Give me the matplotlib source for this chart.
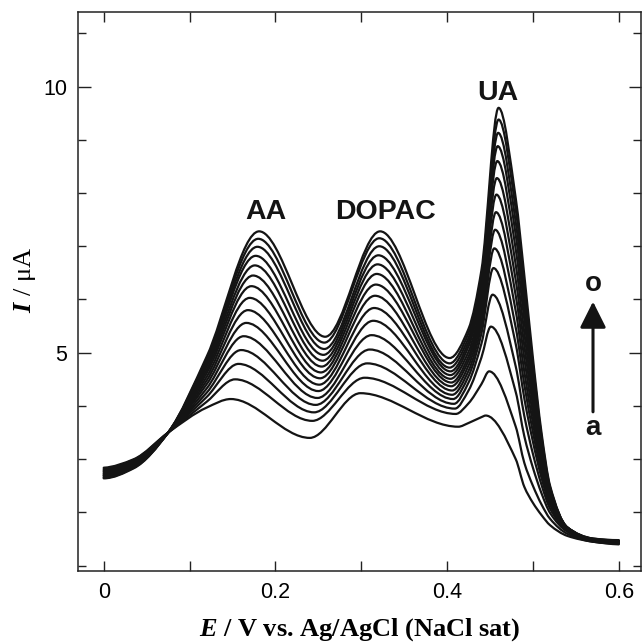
import matplotlib
matplotlib.use("Agg")
import matplotlib.pyplot as plt
from matplotlib.path import Path
from matplotlib.patches import PathPatch
from matplotlib.ticker import MultipleLocator
import numpy as np

# DPV curves a..o: current (uA) at characteristic potentials (V)
curve_names = list("abcdefghijklmno")

start_i = [2.84, 2.82, 2.80, 2.79, 2.77, 2.76, 2.74, 2.73, 2.71, 2.70, 2.69, 2.68, 2.66, 2.65, 2.64]
i_035 = [3.00, 2.99, 2.97, 2.96, 2.95, 2.93, 2.92, 2.91, 2.90, 2.89, 2.88, 2.86, 2.85, 2.84, 2.83]
cross_e, cross_i = 0.075, 3.50
i_120 = [3.97, 4.08, 4.17, 4.25, 4.33, 4.41, 4.48, 4.55, 4.62, 4.68, 4.74, 4.79, 4.84, 4.89, 4.93]

aa_e = [0.148, 0.153, 0.157, 0.160, 0.163, 0.166, 0.168, 0.170, 0.172, 0.174, 0.176, 0.177, 0.179, 0.180, 0.181]
aa_i = [4.13, 4.50, 4.79, 5.05, 5.31, 5.56, 5.80, 6.03, 6.25, 6.45, 6.64, 6.82, 6.99, 7.14, 7.28]

v1_e = [0.240, 0.243, 0.245, 0.247, 0.249, 0.250, 0.251, 0.252, 0.253, 0.254, 0.255, 0.256, 0.257, 0.257, 0.258]
v1_i = [3.40, 3.72, 3.88, 4.02, 4.15, 4.28, 4.40, 4.52, 4.63, 4.74, 4.85, 4.96, 5.07, 5.19, 5.30]

dopac_e = [0.299, 0.304, 0.307, 0.310, 0.312, 0.314, 0.315, 0.316, 0.317, 0.318, 0.319, 0.320, 0.321, 0.321, 0.322]
dopac_i = [4.24, 4.53, 4.80, 5.06, 5.33, 5.60, 5.84, 6.07, 6.28, 6.48, 6.66, 6.83, 7.00, 7.15, 7.28]

v2_e = [0.413, 0.410, 0.409, 0.408, 0.407, 0.406, 0.406, 0.405, 0.405, 0.404, 0.404, 0.404, 0.403, 0.403, 0.403]
v2_i = [3.61, 3.85, 3.95, 4.04, 4.13, 4.21, 4.29, 4.37, 4.44, 4.51, 4.58, 4.65, 4.72, 4.80, 4.90]

i_425 = [3.68, 4.05, 4.29, 4.44, 4.56, 4.66, 4.76, 4.85, 4.93, 5.02, 5.12, 5.20, 5.28, 5.37, 5.45]
i_440 = [3.79, 4.41, 4.91, 5.17, 5.36, 5.50, 5.62, 5.74, 5.85, 5.98, 6.11, 6.22, 6.31, 6.43, 6.55]

ua_e = [0.445, 0.449, 0.451, 0.453, 0.454, 0.455, 0.456, 0.457, 0.4575, 0.458, 0.4585, 0.459, 0.4595, 0.460, 0.460]
ua_i = [3.82, 4.65, 5.49, 6.09, 6.59, 6.96, 7.31, 7.64, 7.97, 8.28, 8.60, 8.88, 9.13, 9.38, 9.60]

# falling side of the UA wave
i_480 = [3.00, 3.61, 4.26, 4.74, 5.16, 5.47, 5.78, 6.07, 6.36, 6.65, 6.94, 7.21, 7.45, 7.69, 7.90]
i_490 = [2.48, 2.93, 3.43, 3.81, 4.14, 4.40, 4.64, 4.89, 5.13, 5.37, 5.62, 5.85, 6.06, 6.26, 6.45]
i_500 = [2.18, 2.50, 2.84, 3.10, 3.33, 3.51, 3.68, 3.84, 4.01, 4.17, 4.34, 4.50, 4.64, 4.78, 4.90]
i_510 = [1.95, 2.15, 2.36, 2.52, 2.65, 2.75, 2.85, 2.94, 3.03, 3.12, 3.21, 3.29, 3.36, 3.43, 3.50]
i_520 = [1.76, 1.88, 1.99, 2.07, 2.14, 2.18, 2.23, 2.27, 2.31, 2.35, 2.38, 2.42, 2.45, 2.47, 2.50]
i_540 = [1.56, 1.60, 1.64, 1.66, 1.68, 1.69, 1.69, 1.70, 1.71, 1.71, 1.71, 1.72, 1.72, 1.72, 1.72]
i_570 = [1.45, 1.45, 1.46, 1.46, 1.47, 1.47, 1.47, 1.48, 1.48, 1.49, 1.49, 1.50, 1.50, 1.51, 1.51]
i_600 = [1.40, 1.41, 1.42, 1.42, 1.43, 1.43, 1.44, 1.44, 1.45, 1.45, 1.46, 1.46, 1.47, 1.47, 1.48]

peak_labels = ["AA", "DOPAC", "UA"]


def pchip_slopes(x, y):
    """Shape-preserving tangents (Fritsch-Carlson) for a smooth curve through the points."""
    h = np.diff(x)
    d = np.diff(y) / h
    m = np.zeros_like(y)
    for i in range(1, len(y) - 1):
        if d[i - 1] * d[i] > 0:
            w1 = 2 * h[i] + h[i - 1]
            w2 = h[i] + 2 * h[i - 1]
            m[i] = (w1 + w2) / (w1 / d[i - 1] + w2 / d[i])
    for i0, i1, j in ((0, 1, 0), (-1, -2, -1)):
        hh0, hh1 = h[i0], h[i1]
        dd0, dd1 = d[i0], d[i1]
        s = ((2 * hh0 + hh1) * dd0 - hh0 * dd1) / (hh0 + hh1)
        if np.sign(s) != np.sign(dd0):
            s = 0.0
        elif np.sign(dd0) != np.sign(dd1) and abs(s) > abs(3 * dd0):
            s = 3 * dd0
        m[j] = s
    return m


def smooth_path(x, y):
    """Bezier path through the given points (cubic Hermite segments)."""
    x = np.asarray(x, float)
    y = np.asarray(y, float)
    m = pchip_slopes(x, y)
    verts = [(x[0], y[0])]
    codes = [Path.MOVETO]
    for i in range(len(x) - 1):
        h = x[i + 1] - x[i]
        verts += [(x[i] + h / 3, y[i] + m[i] * h / 3),
                  (x[i + 1] - h / 3, y[i + 1] - m[i + 1] * h / 3),
                  (x[i + 1], y[i + 1])]
        codes += [Path.CURVE4] * 3
    return Path(verts, codes)


plt.rcParams["mathtext.fontset"] = "custom"
plt.rcParams["mathtext.rm"] = "Liberation Serif"
plt.rcParams["mathtext.it"] = "Liberation Serif:italic:bold"

fig = plt.figure(figsize=(6.43, 6.42), dpi=100)
ax = fig.add_axes([0.1213, 0.1106, 0.8757, 0.8707])

line_color = "#141414"
for k, name in enumerate(curve_names):
    e = [0.0, 0.035, cross_e, 0.12, aa_e[k], v1_e[k], dopac_e[k], v2_e[k],
         0.425, 0.44, ua_e[k], 0.48, 0.49, 0.50, 0.51, 0.52, 0.54, 0.57, 0.60]
    cur = [start_i[k], i_035[k], cross_i, i_120[k], aa_i[k], v1_i[k], dopac_i[k], v2_i[k],
           i_425[k], i_440[k], ua_i[k], i_480[k], i_490[k], i_500[k], i_510[k],
           i_520[k], i_540[k], i_570[k], i_600[k]]
    ax.add_patch(PathPatch(smooth_path(e, cur), fill=False, lw=1.6,
                           ec=line_color, capstyle="round", joinstyle="round"))

ax.set_xlim(-0.030, 0.626)
ax.set_ylim(0.9, 11.4)

ax.xaxis.set_major_locator(MultipleLocator(0.2))
ax.xaxis.set_minor_locator(MultipleLocator(0.1))
ax.yaxis.set_major_locator(MultipleLocator(5))
ax.yaxis.set_minor_locator(MultipleLocator(1))
ax.xaxis.set_major_formatter(plt.FuncFormatter(lambda v, p: "0" if abs(v) < 1e-9 else f"{v:.1f}"))

ax.tick_params(which="both", direction="in", top=True, right=True, width=1.0, color="#222")
ax.tick_params(axis="x", which="both", length=7.5)
ax.tick_params(axis="y", which="major", length=9)
ax.tick_params(axis="y", which="minor", length=6)
ax.tick_params(axis="both", which="major", labelsize=15.5, pad=8)
for lab in ax.get_xticklabels() + ax.get_yticklabels():
    lab.set_fontfamily("Liberation Sans")
for sp in ax.spines.values():
    sp.set_linewidth(1.1)
    sp.set_color("#222")

ax.set_xlabel("$E$ / V vs. Ag/AgCl (NaCl sat)", fontsize=19, fontweight="bold",
              fontfamily="Liberation Serif")
ax.xaxis.set_label_coords(0.50, -0.104)
ax.xaxis.label.set_va("center")
ax.set_ylabel("$I$ / μA", fontsize=19, fontfamily="Liberation Serif")
ax.yaxis.set_label_coords(-0.094, 0.52)
ax.yaxis.label.set_va("center")

label_font = dict(fontsize=20.5, fontweight="bold", fontfamily="Liberation Sans",
                  ha="center", va="center", color="#141414")
ax.text(0.189, 7.65, peak_labels[0], **label_font)
ax.text(0.328, 7.65, peak_labels[1], **label_font)
ax.text(0.459, 9.88, peak_labels[2], **label_font)

ax.annotate("", xy=(0.570, 5.96), xytext=(0.570, 3.89),
            arrowprops=dict(arrowstyle="-|>,head_length=1.0,head_width=0.5",
                            mutation_scale=16, lw=2.2, color="#141414",
                            shrinkA=0, shrinkB=0))
ax.text(0.570, 6.30, "o", **dict(label_font, fontsize=20))
ax.text(0.570, 3.58, "a", **dict(label_font, fontsize=20))

fig.savefig("out.png", dpi=100)
